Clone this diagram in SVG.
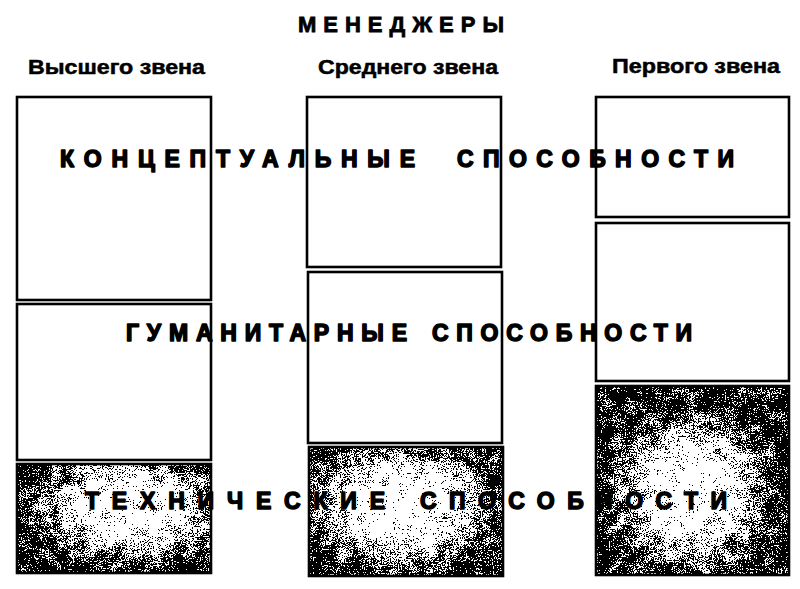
<svg xmlns="http://www.w3.org/2000/svg" width="800" height="589" viewBox="0 0 800 589">
<style>
  .box { fill: #ffffff; stroke: #000; stroke-width: 2.6; }
  .frame { fill: none; stroke: #000; stroke-width: 2.6; }
  .title { font-family: "Liberation Sans", Arial, sans-serif; font-weight: bold; font-size: 22px; fill: #000; stroke: #000; stroke-width: 0.8; }
  .sub { font-family: "Liberation Sans", Arial, sans-serif; font-weight: bold; font-size: 20px; fill: #000; stroke: #000; stroke-width: 0.5; }
  .big { font-family: "Liberation Sans", Arial, sans-serif; font-weight: bold; font-size: 23px; fill: #000; stroke: #000; stroke-width: 1.5; stroke-linejoin: round; }
</style>
<defs>
  <filter id="grain" x="0" y="0" width="1" height="1" color-interpolation-filters="sRGB">
    <feTurbulence type="fractalNoise" baseFrequency="0.75" numOctaves="2" seed="11" result="n1"/>
    <feColorMatrix in="n1" type="matrix" values="1 0 0 0 0  1 0 0 0 0  1 0 0 0 0  0 0 0 0 1" result="f"/>
    <feTurbulence type="fractalNoise" baseFrequency="0.08" numOctaves="3" seed="5" result="n2"/>
    <feColorMatrix in="n2" type="matrix" values="1 0 0 0 0  1 0 0 0 0  1 0 0 0 0  0 0 0 0 1" result="c"/>
    <feComposite in="SourceGraphic" in2="f" operator="arithmetic" k1="0" k2="1" k3="1.9" k4="-0.95" result="s1"/>
    <feComposite in="s1" in2="c" operator="arithmetic" k1="0" k2="1" k3="1.0" k4="-0.5" result="s"/>
    <feComponentTransfer in="s">
      <feFuncR type="discrete" tableValues="0 1"/>
      <feFuncG type="discrete" tableValues="0 1"/>
      <feFuncB type="discrete" tableValues="0 1"/>
    </feComponentTransfer>
  </filter>
  <radialGradient id="g1" cx="0.58" cy="0.4" r="0.58">
    <stop offset="0" stop-color="#fafafa"/>
    <stop offset="0.45" stop-color="#e0e0e0"/>
    <stop offset="0.8" stop-color="#6e6e6e"/>
    <stop offset="1" stop-color="#444444"/>
  </radialGradient>
  <radialGradient id="g2" cx="0.48" cy="0.45" r="0.58">
    <stop offset="0" stop-color="#fafafa"/>
    <stop offset="0.45" stop-color="#e0e0e0"/>
    <stop offset="0.8" stop-color="#6e6e6e"/>
    <stop offset="1" stop-color="#444444"/>
  </radialGradient>
  <radialGradient id="g3" cx="0.49" cy="0.56" r="0.52">
    <stop offset="0" stop-color="#fafafa"/>
    <stop offset="0.42" stop-color="#dedede"/>
    <stop offset="0.78" stop-color="#646464"/>
    <stop offset="1" stop-color="#3e3e3e"/>
  </radialGradient>
</defs>
<rect width="800" height="589" fill="#ffffff"/>

<g id="title">
  <text class="title" x="298" y="32" textLength="206" lengthAdjust="spacing">МЕНЕДЖЕРЫ</text>
</g>
<g id="headers">
  <text class="sub" x="28" y="74" textLength="177" lengthAdjust="spacingAndGlyphs">Высшего звена</text>
  <text class="sub" x="318" y="74" textLength="180" lengthAdjust="spacingAndGlyphs">Среднего звена</text>
  <text class="sub" x="612" y="73" textLength="168" lengthAdjust="spacingAndGlyphs">Первого звена</text>
</g>

<g id="col1">
  <g id="c1-conceptual"><rect class="box" x="17" y="97" width="194" height="203"/></g>
  <g id="c1-human"><rect class="box" x="17" y="304" width="194" height="156"/></g>
  <g id="c1-technical">
    <rect x="17" y="464" width="194" height="109" fill="url(#g1)" filter="url(#grain)"/>
    <rect class="frame" x="17" y="464" width="194" height="109"/>
  </g>
</g>
<g id="col2">
  <g id="c2-conceptual"><rect class="box" x="307" y="97" width="194" height="170"/></g>
  <g id="c2-human"><rect class="box" x="308" y="272" width="194" height="171"/></g>
  <g id="c2-technical">
    <rect x="309" y="447" width="194" height="129" fill="url(#g2)" filter="url(#grain)"/>
    <rect class="frame" x="309" y="447" width="194" height="129"/>
  </g>
</g>
<g id="col3">
  <g id="c3-conceptual"><rect class="box" x="596" y="97" width="193" height="120"/></g>
  <g id="c3-human"><rect class="box" x="596" y="223" width="193" height="158"/></g>
  <g id="c3-technical">
    <rect x="596" y="386" width="193" height="189" fill="url(#g3)" filter="url(#grain)"/>
    <rect class="frame" x="596" y="386" width="193" height="189"/>
  </g>
</g>

<g id="labels">
  <text class="big" x="60" y="167" textLength="355" lengthAdjust="spacing">КОНЦЕПТУАЛЬНЫЕ</text>
  <text class="big" x="457" y="167" textLength="277" lengthAdjust="spacing">СПОСОБНОСТИ</text>
  <text class="big" x="126" y="341" textLength="281" lengthAdjust="spacing">ГУМАНИТАРНЫЕ</text>
  <text class="big" x="432" y="341" textLength="260" lengthAdjust="spacing">СПОСОБНОСТИ</text>
  <text class="big" x="85" y="509" textLength="300" lengthAdjust="spacing">ТЕХНИЧЕСКИЕ</text>
  <text class="big" x="420" y="509" textLength="307" lengthAdjust="spacing">СПОСОБНОСТИ</text>
</g>
</svg>
